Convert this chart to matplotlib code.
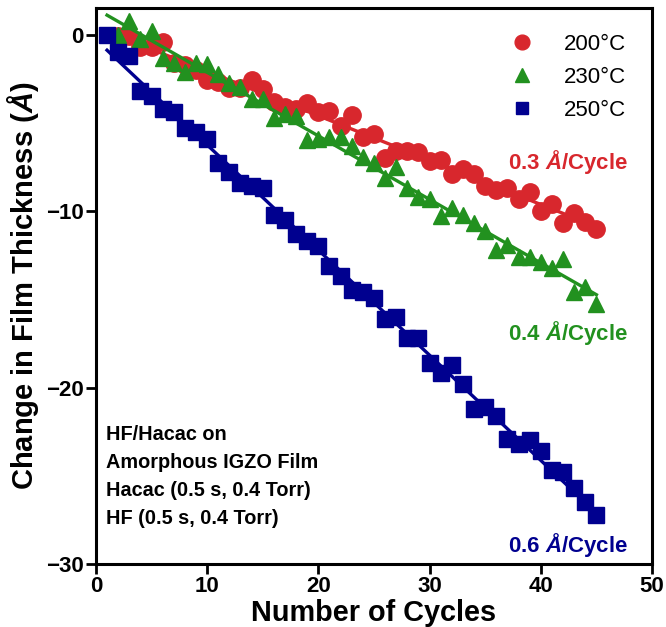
import numpy as np
import matplotlib
matplotlib.use("Agg")
import matplotlib.pyplot as plt

plt.rcParams['font.family'] = ['Liberation Sans', 'DejaVu Sans']
plt.rcParams['mathtext.fontset'] = 'custom'
plt.rcParams['mathtext.it'] = 'Liberation Sans:italic:bold'
plt.rcParams['mathtext.rm'] = 'Liberation Sans:bold'

# data
cyc_200 = np.arange(2, 46)
thk_200 = [-0.05, -0.1, -0.7, -0.7, -0.4, -1.6, -1.75, -2.0, -2.6, -2.7,
           -3.0, -3.0, -2.6, -3.1, -3.8, -4.1, -4.2, -3.9, -4.4, -4.35,
           -5.2, -4.55, -5.8, -5.65, -7.0, -6.6, -6.6, -6.65, -7.15, -7.1,
           -7.9, -7.6, -7.9, -8.6, -8.8, -8.7, -9.3, -8.9, -10.0, -9.6,
           -10.7, -10.1, -10.6, -11.0]

cyc_230 = np.arange(2, 46)
thk_230 = [0.0, 0.8, -0.25, 0.2, -1.3, -1.6, -2.1, -1.6, -1.65, -2.25,
           -2.75, -2.95, -3.65, -3.65, -4.7, -4.5, -4.6, -6.0, -5.9, -5.8,
           -5.8, -6.3, -6.95, -7.3, -8.1, -7.5, -8.7, -9.2, -9.3, -10.3,
           -9.8, -10.25, -10.7, -11.15, -12.2, -11.95, -12.6, -12.6, -12.9, -13.25,
           -12.7, -14.6, -14.3, -15.25]

cyc_250 = np.arange(1, 46)
thk_250 = [0.0, -1.0, -1.2, -3.2, -3.5, -4.2, -4.4, -5.3, -5.5, -5.9,
           -7.3, -7.8, -8.4, -8.6, -8.7, -10.2, -10.5, -11.3, -11.7, -12.0,
           -13.1, -13.7, -14.5, -14.6, -14.9, -16.1, -16.0, -17.2, -17.2, -18.6,
           -19.2, -18.7, -19.8, -21.2, -21.1, -21.6, -22.9, -23.2, -23.0, -23.6,
           -24.7, -24.8, -25.7, -26.5, -27.2]

labels = ['200\u00b0C', '230\u00b0C', '250\u00b0C']
rates = ['0.3', '0.4', '0.6']
red, green, blue = '#d8272d', '#22911f', '#00008f'

fig = plt.figure(figsize=(6.66, 6.27), dpi=100)
ax = fig.add_axes([0.144, 0.1005, 0.835, 0.8865])

series = [(cyc_200, thk_200, red, 'o', 12.5, 2),
          (cyc_230, thk_230, green, '^', 12, 1),
          (cyc_250, thk_250, blue, 's', 11, 1)]

for (x, y, c, m, ms, x0), lab in zip(series, labels):
    ax.plot(x, y, ls='none', marker=m, color=c, ms=ms, label=lab)
    p = np.polyfit(x, y, 1)
    xf = np.array([x0, 45])
    ax.plot(xf, np.polyval(p, xf), color=c, lw=2.4)

ax.set_xlim(0, 50)
ax.set_ylim(-30, 1.5)
ax.set_xticks([0, 10, 20, 30, 40, 50])
ax.set_yticks([0, -10, -20, -30])
ax.tick_params(width=2, length=7, labelsize=16, pad=2)
for t in ax.get_xticklabels() + ax.get_yticklabels():
    t.set_fontweight('bold')
for s in ax.spines.values():
    s.set_linewidth(2.2)

ax.set_xlabel('Number of Cycles', fontsize=20.8, fontweight='bold', labelpad=1)
ax.set_ylabel('Change in Film Thickness ($\\mathit{\u00c5}$)', fontsize=21,
              fontweight='bold', labelpad=3)

leg = ax.legend(loc='upper right', frameon=False, fontsize=16, handletextpad=0.9,
                labelspacing=0.55, borderaxespad=0.75, markerscale=0.85)

ypos = [-7.2, -16.9, -28.9]
for r, c, yy in zip(rates, [red, green, blue], ypos):
    ax.text(47.8, yy, r + ' $\\mathit{\u00c5}$/Cycle', color=c, fontsize=16,
            fontweight='bold', ha='right', va='center')

ax.text(0.9, -22.1, 'HF/Hacac on\nAmorphous IGZO Film\nHacac (0.5 s, 0.4 Torr)\nHF (0.5 s, 0.4 Torr)',
        fontsize=14.3, fontweight='bold', ha='left', va='top', linespacing=1.6)

fig.savefig('out.png', dpi=100)
